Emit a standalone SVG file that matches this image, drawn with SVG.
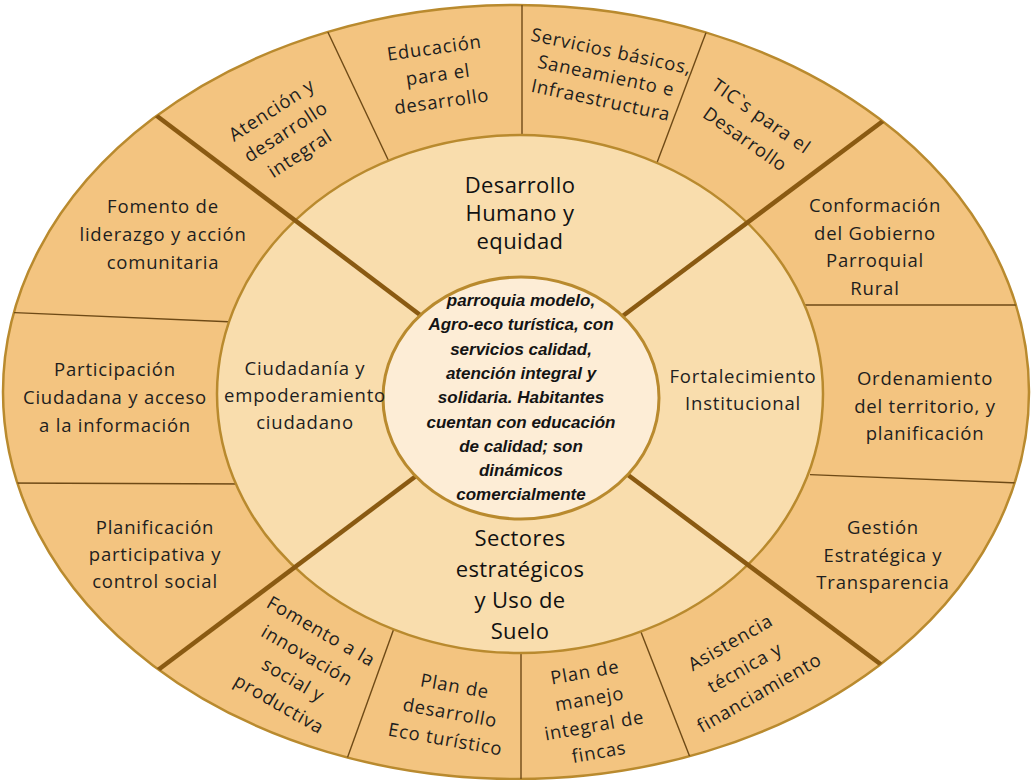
<svg xmlns="http://www.w3.org/2000/svg" width="1032" height="780" viewBox="0 0 1032 780">
<defs>
<clipPath id="outerClip"><ellipse cx="516" cy="392" rx="513" ry="387"/></clipPath>
<style>
.outer{fill:#F3C480;stroke:#B98A2E;stroke-width:2.5}
.middle{fill:#F9DDAD;stroke:#B98A2E;stroke-width:2.5}
.inner{fill:#FDEDD6;stroke:#B98A2E;stroke-width:3}
.thin{stroke:#6E4A16;stroke-width:1.4;fill:none}
.thick{stroke:#8A5A12;stroke-width:4.5;fill:none}
.t{font-family:"Open Sans","Liberation Sans",sans-serif;font-size:18.5px;fill:#1E1E1E;text-anchor:middle;letter-spacing:0.8px}
.h{font-family:"Open Sans","Liberation Sans",sans-serif;font-size:22px;fill:#111111;text-anchor:middle;letter-spacing:0.4px}
.c{font-family:"Liberation Sans",Arial,sans-serif;font-size:17px;font-weight:bold;font-style:italic;fill:#141414;text-anchor:middle}
</style>
</defs>
<rect width="1032" height="780" fill="#FFFFFF"/>
<ellipse id="ring-outer" class="outer" cx="516" cy="392" rx="513" ry="387"/>
<g id="connectors" clip-path="url(#outerClip)">
<line class="thin" x1="325" y1="26" x2="392" y2="168"/>
<line class="thin" x1="522" y1="0" x2="522" y2="145"/>
<line class="thin" x1="710" y1="22" x2="655" y2="168"/>
<line class="thin" x1="0" y1="312" x2="240" y2="322.3"/>
<line class="thin" x1="0" y1="483" x2="250" y2="484"/>
<line class="thin" x1="805" y1="305" x2="1032" y2="305"/>
<line class="thin" x1="810" y1="474.6" x2="1032" y2="483.5"/>
<line class="thin" x1="397" y1="620" x2="343" y2="770"/>
<line class="thin" x1="521" y1="645" x2="521" y2="780"/>
<line class="thin" x1="639" y1="627" x2="695" y2="770"/>
</g>
<ellipse id="ring-middle" class="middle" cx="520" cy="394" rx="303" ry="259"/>
<g id="dividers" clip-path="url(#outerClip)">
<line class="thick" x1="150" y1="110.7" x2="440" y2="330"/>
<line class="thick" x1="895" y1="112" x2="600" y2="333"/>
<line class="thick" x1="150" y1="676" x2="440" y2="458"/>
<line class="thick" x1="895" y1="675" x2="600" y2="454"/>
</g>
<g id="center">
<ellipse class="inner" cx="521" cy="398" rx="138" ry="121"/>
<text class="c" x="521" y="306">parroquia modelo,<tspan x="521" dy="24.3">Agro-eco turística, con</tspan><tspan x="521" dy="24.3">servicios calidad,</tspan><tspan x="521" dy="24.3">atención integral y</tspan><tspan x="521" dy="24.3">solidaria. Habitantes</tspan><tspan x="521" dy="24.3">cuentan con educación</tspan><tspan x="521" dy="24.3">de calidad; son</tspan><tspan x="521" dy="24.3">dinámicos</tspan><tspan x="521" dy="24.3">comercialmente</tspan></text>
</g>
<g id="axis-top"><text class="h" x="520" y="193">Desarrollo<tspan x="520" dy="28">Humano y</tspan><tspan x="520" dy="28">equidad</tspan></text></g>
<g id="axis-bottom"><text class="h" x="520" y="546">Sectores<tspan x="520" dy="31">estratégicos</tspan><tspan x="520" dy="31">y Uso de</tspan><tspan x="520" dy="31">Suelo</tspan></text></g>
<g id="axis-left"><text class="t" x="305" y="375">Ciudadanía y<tspan x="305" dy="27">empoderamiento</tspan><tspan x="305" dy="27">ciudadano</tspan></text></g>
<g id="axis-right"><text class="t" x="743" y="383">Fortalecimiento<tspan x="743" dy="27">Institucional</tspan></text></g>
<g id="n-fomento-liderazgo"><text class="t" x="163" y="213">Fomento de<tspan x="163" dy="28">liderazgo y acción</tspan><tspan x="163" dy="28">comunitaria</tspan></text></g>
<g id="n-participacion"><text class="t" x="115" y="376">Participación<tspan x="115" dy="28">Ciudadana y acceso</tspan><tspan x="115" dy="28">a la información</tspan></text></g>
<g id="n-planificacion"><text class="t" x="155" y="534">Planificación<tspan x="155" dy="27">participativa y</tspan><tspan x="155" dy="27">control social</tspan></text></g>
<g id="n-conformacion"><text class="t" x="875" y="212">Conformación<tspan x="875" dy="27.7">del Gobierno</tspan><tspan x="875" dy="27.7">Parroquial</tspan><tspan x="875" dy="27.7">Rural</tspan></text></g>
<g id="n-ordenamiento"><text class="t" x="925" y="385">Ordenamiento<tspan x="925" dy="27.5">del territorio, y</tspan><tspan x="925" dy="27.5">planificación</tspan></text></g>
<g id="n-gestion"><text class="t" x="883" y="534">Gestión<tspan x="883" dy="27.5">Estratégica y</tspan><tspan x="883" dy="27.5">Transparencia</tspan></text></g>
<g id="n-atencion" transform="translate(286,132) rotate(-33)"><text class="t" x="0" y="-20">Atención y<tspan x="0" dy="26">desarrollo</tspan><tspan x="0" dy="26">integral</tspan></text></g>
<g id="n-educacion" transform="translate(438,75) rotate(-8)"><text class="t" x="0" y="-21">Educación<tspan x="0" dy="27">para el</tspan><tspan x="0" dy="27">desarrollo</tspan></text></g>
<g id="n-servicios" transform="translate(606,76) rotate(12)"><text class="t" x="0" y="-19">Servicios básicos,<tspan x="0" dy="25">Saneamiento e</tspan><tspan x="0" dy="25">Infraestructura</tspan></text></g>
<g id="n-tic" transform="translate(753,128) rotate(35)"><text class="t" x="0" y="-8">TIC`s para el<tspan x="0" dy="28">Desarrollo</tspan></text></g>
<g id="n-fomento-innovacion" transform="translate(300,668) rotate(30)"><text class="t" x="0" y="-36">Fomento a la<tspan x="0" dy="28">innovación</tspan><tspan x="0" dy="28">social y</tspan><tspan x="0" dy="28">productiva</tspan></text></g>
<g id="n-plan-desarrollo" transform="translate(450,713) rotate(10)"><text class="t" x="0" y="-21">Plan de<tspan x="0" dy="27">desarrollo</tspan><tspan x="0" dy="27">Eco turístico</tspan></text></g>
<g id="n-plan-manejo" transform="translate(592,713) rotate(-10)"><text class="t" x="0" y="-35">Plan de<tspan x="0" dy="27">manejo</tspan><tspan x="0" dy="27">integral de</tspan><tspan x="0" dy="27">fincas</tspan></text></g>
<g id="n-asistencia" transform="translate(745,668) rotate(-30)"><text class="t" x="0" y="-23">Asistencia<tspan x="0" dy="29">técnica y</tspan><tspan x="0" dy="29">financiamiento</tspan></text></g>
</svg>
